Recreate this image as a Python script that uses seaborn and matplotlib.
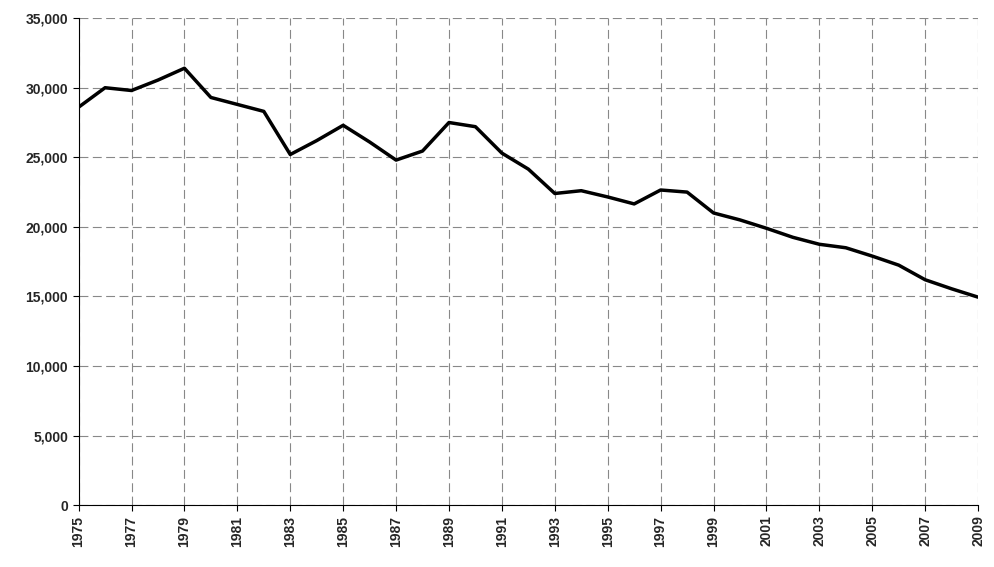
import matplotlib
matplotlib.use("Agg")
import matplotlib.pyplot as plt
import seaborn as sns
import pandas as pd
from matplotlib.ticker import FuncFormatter, MultipleLocator

years = list(range(1975, 2010))
values = [28600, 30000, 29800, 30550, 31400, 29300, 28800, 28300, 25200, 26200,
          27300, 26100, 24800, 25450, 27500, 27200, 25300, 24150, 22400, 22600,
          22150, 21650, 22650, 22500, 21000, 20500, 19900, 19250, 18750, 18500,
          17900, 17250, 16200, 15550, 14950]
tick_years = list(range(1975, 2010, 2))

df = pd.DataFrame({"year": years, "value": values})

sns.set_style("white")
plt.rcParams["font.family"] = ["Liberation Sans", "DejaVu Sans"]

fig, ax = plt.subplots(figsize=(9.95, 5.67), dpi=100)
sns.lineplot(data=df, x="year", y="value", color="black", linewidth=2.5, ax=ax)

ax.set_xlim(1975, 2009)
ax.set_ylim(0, 35000)
ax.set_xticks(tick_years)
ax.set_xticklabels([str(y) for y in tick_years])
ax.yaxis.set_major_locator(MultipleLocator(5000))
ax.yaxis.set_major_formatter(FuncFormatter(lambda v, p: f"{int(v):,}"))
ax.grid(True, color="#888888", linestyle=(0, (8, 4)), linewidth=0.8)
for s in ["top", "right"]:
    ax.spines[s].set_visible(False)
for s in ["left", "bottom"]:
    ax.spines[s].set_color("black")
ax.set_xlabel("")
ax.set_ylabel("")
ax.tick_params(axis="both", length=4, color="black", direction="out", left=True, bottom=True)
for lab in ax.get_xticklabels():
    lab.set_rotation(90)
    lab.set_fontweight("bold")
    lab.set_fontsize(10)
for lab in ax.get_yticklabels():
    lab.set_fontweight("bold")
    lab.set_fontsize(10)

fig.subplots_adjust(left=0.079, right=0.983, top=0.968, bottom=0.109)
fig.savefig("out.png", dpi=100)
